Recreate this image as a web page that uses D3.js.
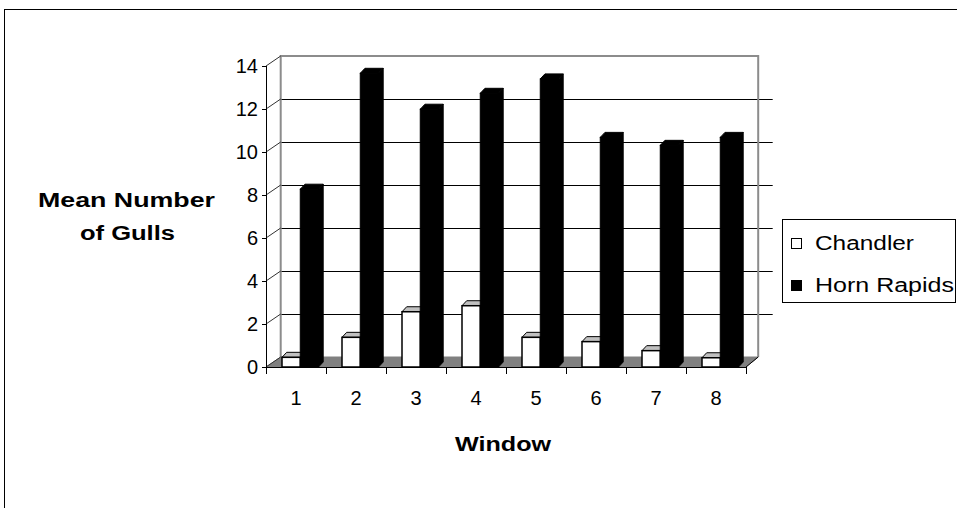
<!DOCTYPE html>
<html><head><meta charset="utf-8">
<script src="https://cdn.jsdelivr.net/npm/d3@7"></script>
<style>html,body{margin:0;padding:0;background:#fff;}svg{display:block;}</style>
</head><body>
<svg id="chart" width="957" height="508"></svg>
<script>
const windows = ["1","2","3","4","5","6","7","8"];
const seriesNames = ["Chandler","Horn Rapids"];
const chandler = [0.45, 1.38, 2.57, 2.85, 1.38, 1.18, 0.76, 0.43];
const hornRapids = [8.27, 13.66, 11.99, 12.73, 13.4, 10.68, 10.31, 10.68];
const yTicks = [0,2,4,6,8,10,12,14];
const seriesColors = ["#ffffff", "#000000"];

const svg = d3.select("#chart");
const font = "'Liberation Sans', Arial, sans-serif";

// outer chart border
svg.append("rect").attr("x",4.5).attr("y",9.5).attr("width",1000).attr("height",600)
  .attr("fill","none").attr("stroke","#000").attr("stroke-width",1);

const x0 = d3.scaleBand().domain(windows).range([266, 746]).padding(0);
const x1 = d3.scaleBand().domain(seriesNames).range([16, 52.5]).padding(0);
const y = d3.scaleLinear().domain([0,14]).range([367, 66]);
const DX = 14.7, DY = -10;   // floor depth offset
const bx = 4.7, by = -5;     // bar depth offset

const g = svg.append("g");

// back wall gridlines
g.selectAll(".grid").data(yTicks.filter(t => t>0 && t<14)).enter().append("line")
  .attr("x1", x0.range()[0]+DX).attr("x2", x0.range()[1]+DX+12)
  .attr("y1", d => y(d)+DY+0.5).attr("y2", d => y(d)+DY+0.5)
  .attr("stroke","#000").attr("stroke-width",1);

// back wall frame (grey)
const wallL = x0.range()[0]+DX, wallR = x0.range()[1]+DX-2.5;
g.append("path")
  .attr("d", `M${wallL},${y(0)+DY} L${wallL},${y(14)+DY} L${wallR+0},${y(14)+DY} L${wallR},${y(0)+DY}`)
  .attr("fill","none").attr("stroke","#8c8c8c").attr("stroke-width",2);

// floor
const fx0 = x0.range()[0], fx1 = x0.range()[1];
g.append("path")
  .attr("d", `M${fx0},${y(0)} L${fx1},${y(0)} L${fx1+DX-2.5},${y(0)+DY} L${fx0+DX},${y(0)+DY} Z`)
  .attr("fill","#808080").attr("stroke","#808080").attr("stroke-width",1);

// diagonal connectors from front axis ticks to back wall
g.selectAll(".diag").data(yTicks).enter().append("line")
  .attr("x1", fx0).attr("y1", d => y(d))
  .attr("x2", fx0+DX).attr("y2", d => y(d)+DY)
  .attr("stroke","#333").attr("stroke-width",1);

// bars
const data = windows.map((w,i) => ({w, vals:[chandler[i], hornRapids[i]]}));
data.forEach(d => {
  seriesNames.forEach((s, si) => {
    const v = d.vals[si];
    const xl = x0(d.w) + x1(s), xr = xl + x1.bandwidth();
    const yt = y(v), yb = y(0);
    const fill = seriesColors[si];
    const isWhite = si === 0;
    const stroke = "#000";
    g.append("path")
      .attr("d", `M${xr},${yb} L${xr+bx},${yb+by} L${xr+bx},${yt+by} L${xr},${yt} Z`)
      .attr("fill", isWhite ? "#808080" : "#000").attr("stroke", stroke).attr("stroke-width",1);
    g.append("path")
      .attr("d", `M${xl},${yt} L${xl+bx},${yt+by} L${xr+bx},${yt+by} L${xr},${yt} Z`)
      .attr("fill", isWhite ? "#c0c0c0" : "#000").attr("stroke", stroke).attr("stroke-width",1);
    g.append("rect")
      .attr("x", xl).attr("y", yt).attr("width", xr-xl).attr("height", yb-yt)
      .attr("fill", fill).attr("stroke", stroke).attr("stroke-width", isWhite ? 1.5 : 1);
  });
});

// front axes
g.append("line").attr("x1",fx0+0.5).attr("x2",fx0+0.5).attr("y1",y(14)).attr("y2",y(0))
  .attr("stroke","#000").attr("stroke-width",1);
g.append("line").attr("x1",fx0).attr("x2",fx1).attr("y1",y(0)+0.5).attr("y2",y(0)+0.5)
  .attr("stroke","#000").attr("stroke-width",1);
g.append("line").attr("x1",fx1).attr("y1",y(0)).attr("x2",fx1+DX-2.5).attr("y2",y(0)+DY)
  .attr("stroke","#000").attr("stroke-width",1);

// y ticks and labels
g.selectAll(".yt").data(yTicks).enter().append("line")
  .attr("x1", fx0-4).attr("x2", fx0).attr("y1", d=>y(d)+0.5).attr("y2", d=>y(d)+0.5)
  .attr("stroke","#000");
g.selectAll(".yl").data(yTicks).enter().append("text")
  .attr("x", 258).attr("y", d=>y(d)).attr("dy","0.36em")
  .attr("text-anchor","end").attr("font-family",font).attr("font-size",20).text(d=>d);

// x ticks and labels
const xt = windows.map(w => x0(w)).concat([fx1]);
g.selectAll(".xt").data(xt).enter().append("line")
  .attr("x1", d=>d+0.5).attr("x2", d=>d+0.5).attr("y1", y(0)).attr("y2", y(0)+7)
  .attr("stroke","#000");
g.selectAll(".xl").data(windows).enter().append("text")
  .attr("x", d => x0(d)+x0.bandwidth()/2).attr("y", 398).attr("dy","0.36em")
  .attr("text-anchor","middle").attr("font-family",font).attr("font-size",20).text(d=>d);

// axis titles
function title(txt, cx, cy, len, bold) {
  svg.append("text").attr("x", cx - len/2).attr("y", cy).attr("dy","0.36em")
    .attr("font-family",font).attr("font-size",20).attr("font-weight", bold ? "bold" : "normal")
    .attr("textLength", len).attr("lengthAdjust","spacingAndGlyphs").text(txt);
}
title("Window", 503, 444, 96, true);
title("Mean Number", 126.5, 200, 177, true);
title("of Gulls", 127.5, 233, 95, true);

// legend
svg.append("rect").attr("x",782.5).attr("y",219.5).attr("width",173).attr("height",83)
  .attr("fill","#fff").attr("stroke","#000");
const legY = [243, 285];
const legLen = [99, 139];
seriesNames.forEach((s,i) => {
  svg.append("rect").attr("x",791.5).attr("y",legY[i]-4.5).attr("width",10).attr("height",10)
    .attr("fill",seriesColors[i]).attr("stroke","#000");
  svg.append("text").attr("x",815).attr("y",legY[i]).attr("dy","0.36em")
    .attr("font-family",font).attr("font-size",20)
    .attr("textLength", legLen[i]).attr("lengthAdjust","spacingAndGlyphs").text(s);
});
</script>
</body></html>
